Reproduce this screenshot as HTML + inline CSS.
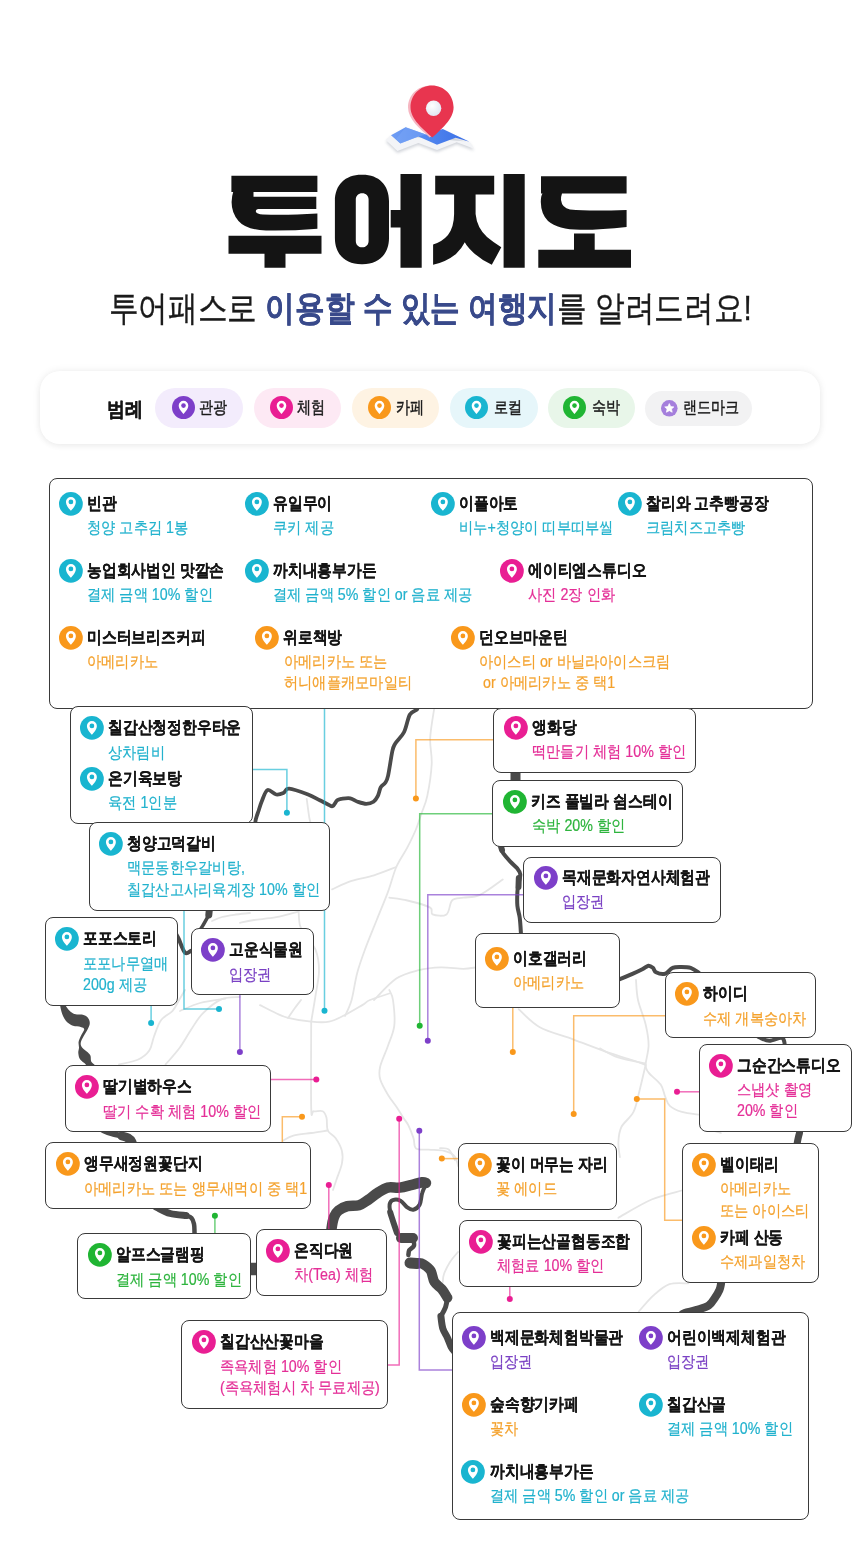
<!DOCTYPE html>
<html lang="ko"><head><meta charset="utf-8"><title>투어지도</title>
<style>
*{margin:0;padding:0;box-sizing:border-box}
html,body{width:860px;height:1542px;background:#fff;overflow:hidden}
body{position:relative;font-family:"Liberation Sans",sans-serif;color:#161616}
.abs{position:absolute}
.box{position:absolute;background:#fff;border:1px solid #3a3a3a;border-radius:8px}
.en{position:absolute;width:1px;height:1px}
.ic{position:absolute;left:0;top:0;width:23.8px;height:23.8px;display:block;overflow:visible}
.tt{position:absolute;left:28.2px;top:2.0px;font-size:17px;line-height:20px;font-weight:bold;white-space:nowrap;transform:scaleX(.87);transform-origin:0 0;color:#151515;-webkit-text-stroke:.2px #151515}
.sb{position:absolute;left:28.3px;top:25.4px;font-size:16px;line-height:21.3px;white-space:nowrap;transform:scaleX(.89);transform-origin:0 0;-webkit-text-stroke:.22px currentColor}
.sb div{white-space:pre}
.pill{height:40.5px;border-radius:21px}
.pic{position:absolute;top:8.2px;width:23px;height:23px}
.pt{position:absolute;top:10.4px;font-size:17px;line-height:20px;font-weight:normal;-webkit-text-stroke:.45px #1a1a1a;white-space:nowrap;transform:scaleX(.83);transform-origin:0 0;color:#1a1a1a}
</style></head><body>

<!-- top pin icon -->
<svg class="abs" style="left:375px;top:78px" width="110" height="85" viewBox="375 78 110 85">
 <defs>
  <linearGradient id="mg" x1="0" y1="0" x2="1" y2="0"><stop offset="0" stop-color="#6f9df4"/><stop offset=".5" stop-color="#4f84ee"/><stop offset="1" stop-color="#3b6fe6"/></linearGradient>
  <filter id="sh" x="-20%" y="-50%" width="140%" height="200%"><feGaussianBlur stdDeviation="1.6"/></filter>
  <radialGradient id="hg" cx=".4" cy=".35" r=".7"><stop offset="0" stop-color="#ffffff"/><stop offset="1" stop-color="#dfe5f2"/></radialGradient>
 </defs>
 <path d="M386 142 L391 137 L405.6 129 L426 136.5 L442.8 131 L469.5 143.7 L474.2 150.7 L456.7 144.3 L437 151.9 L418.4 144.9 L397.4 153 Z" fill="#9aa0ad" opacity=".45" filter="url(#sh)"/>
 <path d="M385.8 140 L391 135.3 L469.5 141.7 L474.2 148.7 L456.7 142.3 L437 149.9 L418.4 142.9 L397.4 151 Z" fill="#f3f4f7"/>
 <path d="M391 135.3 L405.6 127.2 L426 134.5 L442.8 129 L469.5 141.7 L455.6 137.7 L437 144.7 L418.4 136.5 L400.3 143.5 Z" fill="url(#mg)"/>
 <path d="M405.6 127.2 L426 134.5 L418.4 136.5 L400.3 143.5 L396 139 Z" fill="#7aa6f6" opacity=".55"/>
 <path d="M429.5 85.8 C417.5 85.8 408 95.3 408 107.6 C408 119.5 420.5 129.5 429.8 137.6 C438.5 129.5 451 119.5 451 107.6 C451 95.3 441.5 85.8 429.5 85.8 Z" fill="#f6b7c2"/>
 <path d="M432 85.5 C420 85.5 410.5 95 410.5 107.3 C410.5 119.3 423.5 129.5 432.4 137.6 C441 129.5 453.6 119.3 453.6 107.3 C453.6 95 444 85.5 432 85.5 Z" fill="#e8354f"/>
 <circle cx="433.6" cy="108.2" r="7.7" fill="url(#hg)"/>
</svg>
<!-- title -->
<svg class="abs" style="left:0;top:160px" width="860" height="120" viewBox="0 160 860 120" role="img" aria-label="투어지도">
<g fill="#141414">
 <path d="M231.4 175.8H317.4V192.1H253.5V196.7H316.3V209H258.5Q255.8 209 255.8 211.5Q256.5 214 263 214.5Q285 215.5 317.4 213.6V228.7Q290 231 266 230.5Q246 229.8 238.5 221Q231.5 213 231.6 202Q231.8 196 233.2 192.1H231.4Z"/>
 <path d="M228.5 235.7H321.5V253.7H285.5V267.7H264.5V253.7H228.5Z"/>
 <path d="M361.5 174.7C345 174.7 334.9 185 334.9 201V238C334.9 254 345 264.2 361.5 264.2H362.5C379 264.2 389 254 389 238V201C389 185 379 174.7 362.5 174.7ZM362.2 193.3C366 193.3 368.6 196 368.6 199.7V240.9C368.6 244.6 366 247.3 362.2 247.3C358.4 247.3 355.8 244.6 355.8 240.9V199.7C355.8 196 358.4 193.3 362.2 193.3Z" fill-rule="evenodd"/>
 <path d="M390.7 210.1H400.5V174.1H421.7V267.7H400.5V227.6H390.7Z"/>
 <path d="M435.2 175.8H494.2V194.4H475.6V214Q477 228 487 237Q493 242 501.3 247.3L491.8 264.8Q479 259 469.5 248.7Q466 245 464.8 242.2Q462 248 456 254Q446 262 433.1 264.8V244.4Q442 242 448 235Q454 227 454.1 214V194.4H435.2Z"/>
 <path d="M503.6 174.1H524.7V267.7H503.6Z"/>
 <path d="M541 176.2H626.6V193.6H562Q560.8 197 561 200Q562 208 570 209.5Q590 211.5 626.6 209.9V227Q600 230 580 229.8Q558 229.5 548 221Q541 214 540.8 202Q540.8 196 542.5 193.6H541Z"/>
 <path d="M574 233.5H594.7V249.8H631V267.7H538.3V249.8H574Z"/>
</g>
</svg>
<!-- subtitle -->
<div class="abs" style="left:0;top:288px;width:860px;text-align:center;font-size:35px;line-height:40px;white-space:nowrap;color:#1a1a1a">
 <span style="display:inline-block;transform:scaleX(.848);transform-origin:50% 0;-webkit-text-stroke:.35px currentColor">투어패스로 <b style="color:#394a8b;font-weight:bold">이용할 수 있는 여행지</b>를 알려드려요!</span>
</div>
<!-- legend -->
<div class="abs" style="left:40px;top:371px;width:780px;height:73px;border-radius:20px;background:#fff;box-shadow:0 0 8px rgba(0,0,0,.07),0 2px 6px rgba(0,0,0,.04)"></div>
<div class="abs" style="left:107px;top:398px;font-size:20px;line-height:22px;font-weight:bold;transform:scaleX(.9);transform-origin:0 0;color:#151515;-webkit-text-stroke:.25px #151515">범례</div>
<!-- legend pills -->
<div class="abs pill" style="left:155.1px;top:387.8px;width:88.4px;background:#f3ecfc"><svg class="pic" style="left:16.9px" viewBox="0 0 24 24"><circle cx="12" cy="12" r="12" fill="#7d3fc9"/><path d="M12 18.9C10.2 16.8 7 13.6 7 10A5 5 0 0 1 17 10C17 13.6 13.8 16.8 12 18.9Z" fill="#fff"/><circle cx="12" cy="10" r="2.4" fill="#7d3fc9"/></svg><span class="pt" style="left:44px">관광</span></div>
<div class="abs pill" style="left:253.5px;top:387.8px;width:87.2px;background:#fde9f4"><svg class="pic" style="left:16.3px" viewBox="0 0 24 24"><circle cx="12" cy="12" r="12" fill="#e91e93"/><path d="M12 18.9C10.2 16.8 7 13.6 7 10A5 5 0 0 1 17 10C17 13.6 13.8 16.8 12 18.9Z" fill="#fff"/><circle cx="12" cy="10" r="2.4" fill="#e91e93"/></svg><span class="pt" style="left:43px">체험</span></div>
<div class="abs pill" style="left:351.5px;top:387.8px;width:87.8px;background:#fef3e3"><svg class="pic" style="left:16.1px" viewBox="0 0 24 24"><circle cx="12" cy="12" r="12" fill="#f9981b"/><path d="M12 18.9C10.2 16.8 7 13.6 7 10A5 5 0 0 1 17 10C17 13.6 13.8 16.8 12 18.9Z" fill="#fff"/><circle cx="12" cy="10" r="2.4" fill="#f9981b"/></svg><span class="pt" style="left:44.3px">카페</span></div>
<div class="abs pill" style="left:450px;top:387.8px;width:87.5px;background:#e6f6fa"><svg class="pic" style="left:15.4px" viewBox="0 0 24 24"><circle cx="12" cy="12" r="12" fill="#19b5d0"/><path d="M12 18.9C10.2 16.8 7 13.6 7 10A5 5 0 0 1 17 10C17 13.6 13.8 16.8 12 18.9Z" fill="#fff"/><circle cx="12" cy="10" r="2.4" fill="#19b5d0"/></svg><span class="pt" style="left:43.5px">로컬</span></div>
<div class="abs pill" style="left:547.7px;top:387.8px;width:87.5px;background:#e8f6e9"><svg class="pic" style="left:15.8px" viewBox="0 0 24 24"><circle cx="12" cy="12" r="12" fill="#20b533"/><path d="M12 18.9C10.2 16.8 7 13.6 7 10A5 5 0 0 1 17 10C17 13.6 13.8 16.8 12 18.9Z" fill="#fff"/><circle cx="12" cy="10" r="2.4" fill="#20b533"/></svg><span class="pt" style="left:44.3px">숙박</span></div>
<div class="abs pill" style="left:645.4px;top:390.6px;width:106.9px;height:35px;background:#f2f2f3"><svg class="pic" style="left:16.1px;top:9.4px;width:16.6px;height:16.6px" viewBox="0 0 24 24"><circle cx="12" cy="12" r="12" fill="#a57fdc"/><path d="M12 5.2l2 4.3 4.6.5-3.4 3.1 1 4.6L12 15.4l-4.2 2.3 1-4.6L5.4 10l4.6-.5z" fill="#fff" stroke="#fff" stroke-width="1" stroke-linejoin="round"/></svg><span class="pt" style="left:37.3px;top:7.6px">랜드마크</span></div>

<svg class="abs" style="left:0;top:0" width="860" height="1542" viewBox="0 0 860 1542">
<g fill="none" stroke="#e5e5e5" stroke-width="1.8" stroke-linejoin="round" stroke-linecap="round">
<path d="M434.6,706.0 C433.9,711.3 430.7,728.1 430.2,737.8 C429.7,747.5 432.2,754.3 431.7,764.0 C431.2,773.7 429.0,787.7 427.3,795.9 C425.6,804.1 423.4,807.7 421.5,813.4 C419.6,819.1 418.1,824.3 415.7,830.0 C413.3,835.7 410.6,841.2 407.4,847.4 C404.2,853.6 399.6,859.5 396.3,867.0 C393.1,874.5 391.2,883.3 387.9,892.1 C384.6,900.9 380.4,910.7 376.7,920.0 C373.0,929.3 368.9,939.1 365.6,947.9 C362.4,956.7 359.5,964.3 357.2,973.0 C354.9,981.7 353.6,992.8 351.6,1000.0 C349.6,1007.2 346.1,1013.3 345.0,1016.0"/>
<path d="M396.3,867.0 C392.6,868.4 381.4,873.0 374.0,875.3 C366.6,877.6 358.6,878.6 351.6,880.9 C344.6,883.2 335.4,887.9 332.1,889.3"/>
<path d="M389.3,897.7 C392.3,898.2 400.6,898.9 407.4,900.5 C414.1,902.1 425.6,905.1 429.8,907.4 C434.0,909.7 429.8,913.2 432.6,914.4 C435.4,915.6 443.2,916.7 446.5,914.4 C449.8,912.1 449.3,903.3 452.1,900.5 C454.9,897.7 458.7,898.6 463.3,897.7 C467.9,896.8 473.4,897.9 480.0,894.9 C486.6,891.9 499.0,882.1 502.8,879.5"/>
<path d="M374.0,1000.0 C377.7,996.4 388.9,983.6 396.3,978.6 C403.7,973.6 411.2,972.1 418.6,970.2 C426.0,968.3 433.4,967.6 440.9,967.4 C448.3,967.2 457.4,968.8 463.3,968.8 C469.2,968.8 473.9,967.6 476.0,967.4"/>
<path d="M240.0,922.8 C242.3,922.3 247.9,920.9 254.0,920.0 C260.1,919.1 268.9,918.6 276.3,917.2 C283.7,915.8 294.9,912.5 298.6,911.6"/>
<path d="M298.6,911.6 C298.8,913.9 298.9,921.5 300.0,925.6 C301.1,929.7 302.4,932.0 305.0,936.0 C307.6,940.0 313.3,944.0 315.6,949.8 C317.9,955.6 319.0,963.2 319.0,970.7 C319.0,978.2 316.9,986.6 315.6,995.1 C314.3,1003.6 311.9,1017.3 311.2,1021.7"/>
<path d="M212.0,921.0 C213.7,920.3 218.0,918.1 222.0,917.0 C226.0,915.9 231.3,915.2 236.0,914.5 C240.7,913.8 247.7,913.2 250.0,913.0"/>
<path d="M180.0,1011.0 C183.3,1009.7 192.4,1005.0 200.0,1003.0 C207.6,1001.0 221.1,999.4 225.3,998.7"/>
<path d="M260.0,1005.1 C262.6,1006.4 270.6,1010.7 275.3,1012.8 C280.0,1014.9 282.1,1016.4 288.1,1017.9 C294.1,1019.4 304.4,1021.1 311.2,1021.7 C318.0,1022.3 323.5,1022.8 329.0,1021.7 C334.5,1020.6 338.8,1018.1 344.4,1015.3 C349.9,1012.5 358.0,1007.6 362.3,1005.1 C366.6,1002.6 365.5,1001.9 370.0,1000.0 C374.5,998.1 386.1,994.6 389.3,993.5"/>
<path d="M288.1,1017.9 C289.0,1016.6 291.2,1013.2 293.3,1010.2 C295.4,1007.2 299.7,1001.7 301.0,1000.0"/>
<path d="M311.2,1021.7 C311.2,1036.0 310.8,1092.5 311.2,1107.4 C311.6,1122.3 311.8,1110.7 313.7,1111.3 C315.6,1111.9 320.6,1110.2 322.7,1111.3 C324.8,1112.4 325.6,1114.5 326.5,1117.7 C327.4,1120.9 326.3,1127.1 327.8,1130.5 C329.3,1133.9 333.1,1134.7 335.5,1138.1 C337.9,1141.5 340.8,1146.6 341.9,1150.9 C343.0,1155.2 342.8,1159.0 341.9,1163.7 C341.0,1168.4 338.2,1174.6 336.7,1179.0 C335.2,1183.4 333.6,1188.2 333.0,1190.0"/>
<path d="M327.8,1130.5 C325.0,1130.9 316.9,1132.2 311.2,1133.0 C305.4,1133.8 298.0,1134.3 293.3,1135.6 C288.6,1136.9 284.7,1139.8 283.0,1140.7"/>
<path d="M389.3,990.0 C389.9,991.7 392.2,994.1 393.0,1000.0 C393.8,1005.9 395.2,1017.9 394.3,1025.6 C393.4,1033.3 390.2,1039.2 387.9,1046.0 C385.5,1052.8 381.5,1061.0 380.2,1066.5 C378.9,1072.0 378.9,1074.6 380.2,1079.3 C381.5,1084.0 385.1,1090.0 387.9,1094.7 C390.7,1099.4 394.3,1103.6 396.9,1107.4 C399.5,1111.2 401.4,1114.7 403.3,1117.7 C405.2,1120.7 406.7,1122.0 408.4,1125.4 C410.1,1128.8 412.2,1134.3 413.5,1138.1 C414.8,1141.9 413.4,1146.5 416.0,1148.4 C418.6,1150.3 424.1,1149.3 428.8,1149.7 C433.5,1150.1 439.9,1149.9 444.2,1150.9 C448.5,1152.0 452.0,1153.4 454.4,1156.0 C456.8,1158.6 457.6,1164.6 458.3,1166.3"/>
<path d="M119.0,1064.4 C122.1,1063.6 132.6,1062.1 137.7,1059.8 C142.8,1057.5 146.6,1054.4 149.3,1050.5 C152.0,1046.6 152.1,1041.5 154.0,1036.5 C155.9,1031.5 157.9,1024.5 161.0,1020.2 C164.1,1015.9 169.5,1014.4 172.6,1010.9 C175.7,1007.4 177.4,1002.8 179.5,999.3 C181.6,995.8 184.1,991.5 185.0,990.0"/>
<path d="M165.6,1064.4 C167.9,1061.7 175.2,1053.8 179.5,1048.0 C183.8,1042.2 187.3,1035.3 191.2,1029.5 C195.1,1023.7 197.8,1018.3 202.8,1013.3 C207.8,1008.3 215.2,1002.0 221.4,999.3 C227.6,996.6 236.9,997.4 240.0,997.0"/>
<path d="M518.6,1009.1 C522.1,1012.1 530.7,1022.2 539.8,1027.2 C548.9,1032.2 561.4,1035.0 573.0,1039.3 C584.6,1043.6 599.2,1049.4 609.3,1052.9 C619.4,1056.4 627.5,1058.5 633.5,1060.5 C639.5,1062.5 643.6,1064.2 645.6,1065.0"/>
<path d="M636.0,980.0 C636.3,983.3 636.4,992.6 638.0,1000.0 C639.6,1007.4 643.8,1016.7 645.6,1024.2 C647.4,1031.8 648.6,1038.5 648.6,1045.3 C648.6,1052.1 645.6,1060.5 645.6,1065.0 C645.6,1069.5 646.1,1069.3 648.6,1072.6 C651.1,1075.9 657.9,1080.6 660.7,1084.6 C663.5,1088.6 663.7,1093.2 665.2,1096.7 C666.7,1100.2 667.0,1103.3 669.8,1105.8 C672.6,1108.3 676.9,1110.4 681.9,1111.9 C686.9,1113.4 697.0,1114.4 700.0,1114.9"/>
<path d="M645.6,1065.0 C644.6,1069.3 641.5,1082.9 639.5,1090.7 C637.5,1098.5 636.5,1105.9 633.5,1111.9 C630.5,1118.0 623.9,1122.0 621.4,1127.0 C618.9,1132.0 618.6,1137.1 618.4,1142.1 C618.1,1147.1 619.6,1154.7 619.9,1157.2"/>
<path d="M600.0,1048.4 C603.0,1049.9 610.6,1054.9 618.1,1057.4 C625.6,1059.9 640.8,1062.5 645.3,1063.5"/>
<path d="M618.4,1217.7 C623.9,1214.7 641.0,1204.0 651.6,1199.5 C662.2,1195.0 676.9,1192.0 681.9,1190.5"/>
<path d="M638.8,1311.5 C641.2,1308.8 648.4,1300.0 653.5,1295.4 C658.6,1290.9 663.7,1286.2 669.5,1284.2 C675.3,1282.2 685.2,1283.5 688.3,1283.4"/>
<path d="M440.0,1148.1 C441.5,1148.4 446.5,1147.7 449.0,1149.7 C451.5,1151.7 454.0,1158.5 455.0,1160.2"/>
<path d="M458.0,1252.0 C456.7,1253.7 452.3,1258.3 450.0,1262.0 C447.7,1265.7 445.2,1270.7 444.0,1274.0 C442.8,1277.3 443.0,1280.7 442.8,1282.0"/>
<path d="M306.7,798.8 C307.2,802.2 308.7,814.7 309.6,819.2 C310.5,823.7 311.6,824.9 312.0,826.0"/>
<path d="M699.8,1127.0 L720.9,1133.0"/>
</g>
<g fill="none" stroke="#4a4a4a" stroke-linejoin="round" stroke-linecap="round">
<path stroke-width="10.5" d="M331.5,1236.0 C331.5,1234.8 331.1,1232.2 331.5,1229.0 C331.9,1225.8 332.8,1220.1 334.0,1217.0 C335.2,1213.9 336.3,1212.3 338.5,1210.5 C340.7,1208.7 344.0,1207.1 347.4,1206.2 C350.8,1205.3 355.6,1206.2 359.0,1205.2 C362.4,1204.2 364.9,1202.0 368.0,1200.0 C371.1,1198.0 374.2,1195.1 377.5,1193.0 C380.8,1190.9 384.0,1188.5 387.7,1187.6 C391.4,1186.7 395.8,1188.1 399.8,1187.6 C403.9,1187.1 408.3,1185.7 412.0,1184.8 C415.7,1183.9 419.9,1182.5 422.2,1182.2 C424.5,1181.9 425.4,1182.9 426.0,1183.0"/>
<path stroke-width="4" d="M426.0,1184.0 C425.4,1185.5 423.2,1189.6 422.2,1193.0 C421.1,1196.4 421.2,1201.7 419.7,1204.5 C418.2,1207.3 415.4,1209.3 413.3,1209.7 C411.2,1210.1 409.0,1208.6 406.9,1207.1 C404.8,1205.6 402.9,1201.9 400.5,1200.7 C398.1,1199.5 394.6,1199.5 392.8,1200.1 C391.0,1200.7 390.0,1202.5 389.6,1204.5 C389.2,1206.5 390.1,1210.9 390.2,1212.2"/>
<path stroke-width="6" d="M390.2,1212.2 C390.5,1213.3 391.4,1216.2 392.2,1218.6 C392.9,1220.9 393.9,1223.9 394.7,1226.3 C395.5,1228.7 396.6,1231.9 397.0,1233.0"/>
<path stroke-width="10" d="M401.0,1238.0 L413.0,1238.0"/>
<path stroke-width="4.5" d="M413.0,1238.0 C413.2,1239.3 414.6,1243.6 414.0,1245.6 C413.4,1247.6 410.2,1248.6 409.3,1250.2 C408.4,1251.8 408.5,1254.2 408.4,1255.0"/>
<path stroke-width="11" d="M410.0,1263.0 L417.0,1263.5"/>
<path stroke-width="10" d="M515.5,768.0 L515.5,784.0"/>
<path stroke-width="6" d="M500.0,843.0 L502.0,850.0"/>
<path stroke-width="4" d="M500.0,843.0 C500.2,844.0 500.9,847.3 501.5,849.0 C502.1,850.7 501.8,851.3 503.3,853.4 C504.8,855.5 508.0,859.1 510.3,861.6 C512.6,864.1 515.7,866.5 517.4,868.6 C519.1,870.7 520.1,871.9 520.3,874.4 C520.5,876.9 519.0,880.8 518.5,883.7 C518.0,886.6 517.6,888.2 517.4,891.9 C517.2,895.6 517.0,901.6 517.4,905.9 C517.8,910.2 519.1,913.1 519.7,917.6 C520.3,922.1 520.7,929.4 520.9,932.8 C521.1,936.2 521.0,937.1 521.0,938.0"/>
<path stroke-width="6" d="M518.8,878.0 L518.5,887.0"/>
<path stroke-width="3.8" d="M418.4,705.0 C418.2,705.7 418.6,707.7 417.2,709.3 C415.8,710.9 412.1,710.7 409.9,714.5 C407.7,718.3 406.5,727.1 404.1,732.0 C401.7,736.9 397.2,740.5 395.3,743.6 C393.4,746.8 393.6,745.6 392.4,750.9 C391.2,756.2 389.3,770.3 388.1,775.6 C386.9,780.9 386.4,780.9 385.2,782.8 C384.0,784.7 382.0,785.0 380.8,787.2 C379.6,789.4 379.1,793.5 377.9,795.9 C376.7,798.3 375.4,800.4 373.5,801.7 C371.6,803.0 368.9,803.8 366.3,803.8 C363.7,803.8 360.3,802.6 357.6,801.7 C354.9,800.8 353.0,798.8 350.3,798.3 C347.6,797.8 343.8,798.5 341.6,798.8 C339.4,799.1 338.7,799.1 337.2,800.3 C335.7,801.5 334.2,805.4 332.8,806.1 C331.4,806.8 330.7,805.7 328.5,804.7 C326.3,803.7 323.2,802.0 319.8,800.3 C316.4,798.6 313.2,796.4 308.1,794.5 C303.0,792.6 293.3,789.0 289.2,788.7 C285.1,788.5 285.6,792.0 283.4,793.0 C281.2,794.0 278.9,795.0 276.2,794.5 C273.5,794.0 269.8,788.9 267.4,790.1 C265.0,791.3 263.1,798.3 261.6,801.7 C260.2,805.1 259.7,807.6 258.7,810.5 C257.7,813.4 256.4,816.6 255.8,819.2 C255.2,821.8 255.1,824.9 255.0,826.0"/>
<path stroke-width="7" d="M209.5,908.0 L208.8,915.0"/>
<path stroke-width="3.5" d="M208.8,915.0 C207.8,916.8 204.6,922.7 202.8,925.7 C201.0,928.7 198.8,931.8 198.0,933.0"/>
<path stroke-width="4" d="M195.0,950.0 C194.4,950.1 192.8,950.3 191.2,950.8 C189.5,951.2 187.2,954.7 185.1,952.7 C183.0,950.7 180.3,942.2 178.6,938.7 C176.9,935.2 175.6,933.1 175.0,932.0"/>
<path stroke-width="6" d="M100.0,1128.0 C100.7,1128.4 102.0,1129.6 104.0,1130.5 C106.0,1131.4 109.0,1132.6 112.0,1133.5 C115.0,1134.4 120.3,1135.6 122.0,1136.0"/>
<path stroke-width="9" d="M122.0,1136.0 C123.0,1136.3 126.3,1137.0 128.0,1138.0 C129.7,1139.0 131.2,1140.5 132.0,1142.0 C132.8,1143.5 132.8,1146.2 133.0,1147.0"/>
<path stroke-width="7" d="M152.0,1204.0 C153.0,1204.7 155.0,1206.4 158.0,1208.0 C161.0,1209.6 165.5,1212.2 170.2,1213.5 C174.9,1214.8 183.4,1215.2 186.0,1215.5"/>
<path stroke-width="4.5" d="M186.0,1215.5 C186.9,1215.9 190.2,1216.6 191.5,1218.0 C192.8,1219.4 193.5,1221.7 194.0,1224.0 C194.5,1226.3 194.4,1229.7 194.5,1232.0 C194.6,1234.3 194.5,1237.0 194.5,1238.0"/>
<path stroke-width="12.5" d="M248.0,1269.0 L259.0,1269.0"/>
<path stroke-width="10" d="M418.0,1263.0 C418.9,1263.2 421.2,1262.9 423.3,1264.2 C425.4,1265.5 428.9,1267.8 430.7,1270.7 C432.5,1273.7 432.5,1278.8 434.4,1281.9 C436.3,1285.0 439.7,1286.7 441.9,1289.3 C444.1,1291.9 446.5,1296.3 447.4,1297.7"/>
<path stroke-width="5" d="M447.4,1297.7 C447.1,1299.2 446.7,1303.9 445.6,1307.0 C444.5,1310.1 441.7,1314.8 440.9,1316.3"/>
<path stroke-width="7" d="M440.9,1316.3 C441.2,1318.3 441.7,1324.8 442.8,1328.4 C443.9,1332.0 446.0,1334.6 447.4,1337.7 C448.8,1340.8 449.9,1344.6 451.2,1347.0 C452.5,1349.4 454.4,1351.2 455.0,1352.0"/>
<path stroke-width="4" d="M615.0,980.0 C615.7,979.9 616.3,980.3 619.3,979.3 C622.3,978.2 629.2,975.4 633.0,973.7 C636.8,972.0 639.7,970.6 642.3,969.3 C644.9,968.0 646.6,966.0 648.4,965.7 C650.2,965.5 651.6,966.7 652.9,967.8 C654.2,968.9 654.0,971.3 656.0,972.3 C658.0,973.3 662.2,974.5 665.0,973.8 C667.8,973.0 669.8,968.9 672.6,967.8 C675.4,966.6 678.6,966.9 681.6,966.9 C684.6,966.9 687.9,966.9 690.7,967.8 C693.5,968.7 696.4,970.9 698.3,972.3 C700.2,973.7 701.4,975.4 702.0,976.0"/>
<path stroke-width="4" d="M755.0,1034.0 C755.9,1034.6 757.8,1036.7 760.2,1037.8 C762.6,1038.9 765.8,1040.8 769.3,1040.8 C772.8,1040.8 778.9,1037.5 781.4,1037.8 C783.9,1038.0 783.9,1040.6 784.4,1042.3 C784.9,1044.0 784.4,1047.0 784.4,1048.0"/>
<path stroke-width="4" d="M799.5,1128.0 L799.5,1133.0"/>
<path stroke-width="7" d="M799.5,1133.0 C799.2,1134.0 798.5,1136.7 798.0,1139.0 C797.5,1141.3 796.8,1145.7 796.5,1147.0"/>
<path stroke-width="3.5" d="M721.0,1278.0 L721.0,1284.0"/>
<path stroke-width="8" d="M721.0,1284.0 C720.7,1285.0 720.4,1287.9 719.4,1290.2 C718.4,1292.5 716.7,1295.3 714.9,1297.8 C713.1,1300.3 711.8,1303.4 708.8,1305.4 C705.8,1307.4 700.7,1308.6 696.7,1309.9 C692.7,1311.2 687.5,1312.0 684.7,1313.0 C681.9,1314.0 680.8,1315.5 680.0,1316.0"/>
</g>
<path fill="#4a4a4a" d="M60.1,1003.0 C59.1,1003.4 59.8,1003.8 60.1,1005.6 C60.5,1007.4 61.2,1011.5 62.2,1014.0 C63.2,1016.5 64.2,1018.9 66.0,1020.9 C67.8,1022.9 70.5,1024.8 73.0,1025.8 C75.5,1026.8 78.8,1026.3 80.7,1026.9 C82.6,1027.5 84.2,1027.7 84.2,1029.3 C84.2,1030.9 81.6,1034.2 80.7,1036.3 C79.8,1038.4 78.9,1040.1 78.6,1041.9 C78.3,1043.8 79.0,1045.6 79.0,1047.4 C79.0,1049.2 78.1,1051.0 78.3,1053.0 C78.5,1055.0 78.8,1057.4 80.0,1059.3 C81.2,1061.2 84.4,1062.8 85.6,1064.2 C86.8,1065.7 85.4,1067.4 87.0,1068.0 C88.6,1068.6 93.7,1068.5 95.0,1068.0 C96.3,1067.5 95.3,1066.0 94.7,1064.9 C94.1,1063.8 91.9,1062.9 91.2,1061.4 C90.5,1059.9 91.1,1057.3 90.5,1055.8 C89.9,1054.3 89.1,1053.7 87.7,1052.3 C86.3,1050.9 83.3,1048.9 82.1,1047.4 C80.9,1045.9 80.6,1044.9 80.7,1043.3 C80.8,1041.7 81.6,1040.0 82.8,1037.7 C84.0,1035.4 86.5,1031.8 87.7,1029.3 C88.9,1026.8 89.8,1025.0 89.8,1023.0 C89.8,1021.0 88.9,1018.8 87.7,1017.4 C86.5,1016.0 84.8,1015.2 82.8,1014.7 C80.8,1014.2 77.8,1014.8 75.8,1014.3 C73.8,1013.8 72.5,1013.2 70.9,1011.9 C69.3,1010.6 66.8,1007.8 66.0,1006.3 C65.2,1004.8 67.0,1003.5 66.0,1003.0 C65.0,1002.5 61.1,1002.6 60.1,1003.0Z"/>
<polyline fill="none" stroke="#19b5d0" stroke-opacity=".65" stroke-width="1.5" points="252.8,769.5 286.9,769.5 286.9,812.8"/>
<circle cx="286.9" cy="812.8" r="3" fill="#19b5d0"/>
<polyline fill="none" stroke="#19b5d0" stroke-opacity=".65" stroke-width="1.5" points="324.5,707.0 324.5,1010.8"/>
<circle cx="324.5" cy="1010.8" r="3" fill="#19b5d0"/>
<polyline fill="none" stroke="#19b5d0" stroke-opacity=".65" stroke-width="1.5" points="184.0,910.0 184.0,1009.0 219.0,1009.0"/>
<circle cx="219.0" cy="1009.0" r="3" fill="#19b5d0"/>
<polyline fill="none" stroke="#19b5d0" stroke-opacity=".65" stroke-width="1.5" points="151.1,1005.0 151.1,1023.0"/>
<circle cx="151.1" cy="1023.0" r="3" fill="#19b5d0"/>
<polyline fill="none" stroke="#7d3fc9" stroke-opacity=".65" stroke-width="1.5" points="239.9,994.5 239.9,1052.0"/>
<circle cx="239.9" cy="1052.0" r="3" fill="#7d3fc9"/>
<polyline fill="none" stroke="#7d3fc9" stroke-opacity=".65" stroke-width="1.5" points="523.5,894.8 427.8,894.8 427.8,1040.7"/>
<circle cx="427.8" cy="1040.7" r="3" fill="#7d3fc9"/>
<polyline fill="none" stroke="#7d3fc9" stroke-opacity=".65" stroke-width="1.5" points="452.5,1370.0 419.3,1370.0 419.3,1130.8"/>
<circle cx="419.3" cy="1130.8" r="3" fill="#7d3fc9"/>
<polyline fill="none" stroke="#f9981b" stroke-opacity=".65" stroke-width="1.5" points="493.6,739.8 415.9,739.8 415.9,798.6"/>
<circle cx="415.9" cy="798.6" r="3" fill="#f9981b"/>
<polyline fill="none" stroke="#f9981b" stroke-opacity=".65" stroke-width="1.5" points="512.8,1006.5 512.8,1052.0"/>
<circle cx="512.8" cy="1052.0" r="3" fill="#f9981b"/>
<polyline fill="none" stroke="#f9981b" stroke-opacity=".65" stroke-width="1.5" points="665.7,1015.7 573.7,1015.7 573.7,1114.0"/>
<circle cx="573.7" cy="1114.0" r="3" fill="#f9981b"/>
<polyline fill="none" stroke="#f9981b" stroke-opacity=".65" stroke-width="1.5" points="682.7,1220.3 664.7,1220.3 664.7,1099.0 636.8,1099.0"/>
<circle cx="636.8" cy="1099.0" r="3" fill="#f9981b"/>
<polyline fill="none" stroke="#f9981b" stroke-opacity=".65" stroke-width="1.5" points="282.3,1142.4 282.3,1116.7 302.0,1116.7"/>
<circle cx="302.0" cy="1116.7" r="3" fill="#f9981b"/>
<polyline fill="none" stroke="#f9981b" stroke-opacity=".65" stroke-width="1.5" points="458.6,1158.6 441.8,1158.6"/>
<circle cx="441.8" cy="1158.6" r="3" fill="#f9981b"/>
<polyline fill="none" stroke="#20b533" stroke-opacity=".65" stroke-width="1.5" points="492.7,813.8 419.7,813.8 419.7,1025.8"/>
<circle cx="419.7" cy="1025.8" r="3" fill="#20b533"/>
<polyline fill="none" stroke="#20b533" stroke-opacity=".65" stroke-width="1.5" points="214.9,1233.3 214.9,1215.8"/>
<circle cx="214.9" cy="1215.8" r="3" fill="#20b533"/>
<polyline fill="none" stroke="#e91e93" stroke-opacity=".65" stroke-width="1.5" points="699.8,1091.8 677.0,1091.8"/>
<circle cx="677.0" cy="1091.8" r="3" fill="#e91e93"/>
<polyline fill="none" stroke="#e91e93" stroke-opacity=".65" stroke-width="1.5" points="270.9,1079.4 316.3,1079.4"/>
<circle cx="316.3" cy="1079.4" r="3" fill="#e91e93"/>
<polyline fill="none" stroke="#e91e93" stroke-opacity=".65" stroke-width="1.5" points="328.8,1229.2 328.8,1184.9"/>
<circle cx="328.8" cy="1184.9" r="3" fill="#e91e93"/>
<polyline fill="none" stroke="#e91e93" stroke-opacity=".65" stroke-width="1.5" points="387.9,1365.0 399.2,1365.0 399.2,1118.7"/>
<circle cx="399.2" cy="1118.7" r="3" fill="#e91e93"/>
<polyline fill="none" stroke="#e91e93" stroke-opacity=".65" stroke-width="1.5" points="509.8,1286.3 509.8,1299.0"/>
<circle cx="509.8" cy="1299.0" r="3" fill="#e91e93"/>
</svg>
<div class="box" style="left:48.9px;top:478.0px;width:764.0px;height:230.8px"></div>
<div class="box" style="left:70.0px;top:705.9px;width:183.3px;height:117.7px"></div>
<div class="box" style="left:89.0px;top:822.1px;width:241.0px;height:88.6px"></div>
<div class="box" style="left:44.7px;top:916.9px;width:133.0px;height:88.9px"></div>
<div class="box" style="left:190.6px;top:927.9px;width:123.7px;height:67.1px"></div>
<div class="box" style="left:493.1px;top:707.7px;width:202.8px;height:65.3px"></div>
<div class="box" style="left:492.2px;top:780.2px;width:190.5px;height:67.0px"></div>
<div class="box" style="left:522.9px;top:857.3px;width:197.9px;height:66.2px"></div>
<div class="box" style="left:475.0px;top:933.0px;width:144.7px;height:75.0px"></div>
<div class="box" style="left:665.2px;top:972.3px;width:150.9px;height:66.2px"></div>
<div class="box" style="left:699.3px;top:1044.4px;width:152.7px;height:88.1px"></div>
<div class="box" style="left:64.8px;top:1064.9px;width:206.6px;height:67.0px"></div>
<div class="box" style="left:44.7px;top:1141.9px;width:266.0px;height:66.8px"></div>
<div class="box" style="left:458.1px;top:1143.2px;width:159.2px;height:66.4px"></div>
<div class="box" style="left:682.2px;top:1143.2px;width:136.8px;height:139.7px"></div>
<div class="box" style="left:77.4px;top:1232.7px;width:173.7px;height:66.8px"></div>
<div class="box" style="left:256.1px;top:1228.7px;width:130.9px;height:67.0px"></div>
<div class="box" style="left:459.0px;top:1219.9px;width:182.7px;height:66.9px"></div>
<div class="box" style="left:181.4px;top:1319.9px;width:207.0px;height:89.0px"></div>
<div class="box" style="left:452.1px;top:1311.9px;width:357.4px;height:208.4px"></div>
<div class="en" style="left:58.9px;top:492.1px"><svg class="ic" viewBox="0 0 24 24"><circle cx="12" cy="12" r="12" fill="#19b5d0"/><path d="M12 18.9C10.2 16.8 7 13.6 7 10A5 5 0 0 1 17 10C17 13.6 13.8 16.8 12 18.9Z" fill="#fff"/><circle cx="12" cy="10" r="2.4" fill="#19b5d0"/></svg><div class="tt">빈관</div><div class="sb" style="color:#22b2cd"><div>청양 고추김 1봉</div></div></div>
<div class="en" style="left:245.0px;top:492.1px"><svg class="ic" viewBox="0 0 24 24"><circle cx="12" cy="12" r="12" fill="#19b5d0"/><path d="M12 18.9C10.2 16.8 7 13.6 7 10A5 5 0 0 1 17 10C17 13.6 13.8 16.8 12 18.9Z" fill="#fff"/><circle cx="12" cy="10" r="2.4" fill="#19b5d0"/></svg><div class="tt">유일무이</div><div class="sb" style="color:#22b2cd"><div>쿠키 제공</div></div></div>
<div class="en" style="left:431.0px;top:491.8px"><svg class="ic" viewBox="0 0 24 24"><circle cx="12" cy="12" r="12" fill="#19b5d0"/><path d="M12 18.9C10.2 16.8 7 13.6 7 10A5 5 0 0 1 17 10C17 13.6 13.8 16.8 12 18.9Z" fill="#fff"/><circle cx="12" cy="10" r="2.4" fill="#19b5d0"/></svg><div class="tt">이플아토</div><div class="sb" style="color:#22b2cd"><div>비누+청양이 띠부띠부씰</div></div></div>
<div class="en" style="left:617.8px;top:491.8px"><svg class="ic" viewBox="0 0 24 24"><circle cx="12" cy="12" r="12" fill="#19b5d0"/><path d="M12 18.9C10.2 16.8 7 13.6 7 10A5 5 0 0 1 17 10C17 13.6 13.8 16.8 12 18.9Z" fill="#fff"/><circle cx="12" cy="10" r="2.4" fill="#19b5d0"/></svg><div class="tt">찰리와 고추빵공장</div><div class="sb" style="color:#22b2cd"><div>크림치즈고추빵</div></div></div>
<div class="en" style="left:59.1px;top:558.9px"><svg class="ic" viewBox="0 0 24 24"><circle cx="12" cy="12" r="12" fill="#19b5d0"/><path d="M12 18.9C10.2 16.8 7 13.6 7 10A5 5 0 0 1 17 10C17 13.6 13.8 16.8 12 18.9Z" fill="#fff"/><circle cx="12" cy="10" r="2.4" fill="#19b5d0"/></svg><div class="tt">농업회사법인 맛깔손</div><div class="sb" style="color:#22b2cd"><div>결제 금액 10% 할인</div></div></div>
<div class="en" style="left:245.0px;top:558.8px"><svg class="ic" viewBox="0 0 24 24"><circle cx="12" cy="12" r="12" fill="#19b5d0"/><path d="M12 18.9C10.2 16.8 7 13.6 7 10A5 5 0 0 1 17 10C17 13.6 13.8 16.8 12 18.9Z" fill="#fff"/><circle cx="12" cy="10" r="2.4" fill="#19b5d0"/></svg><div class="tt">까치내흥부가든</div><div class="sb" style="color:#22b2cd"><div>결제 금액 5% 할인 or 음료 제공</div></div></div>
<div class="en" style="left:499.8px;top:558.9px"><svg class="ic" viewBox="0 0 24 24"><circle cx="12" cy="12" r="12" fill="#e91e93"/><path d="M12 18.9C10.2 16.8 7 13.6 7 10A5 5 0 0 1 17 10C17 13.6 13.8 16.8 12 18.9Z" fill="#fff"/><circle cx="12" cy="10" r="2.4" fill="#e91e93"/></svg><div class="tt">에이티엠스튜디오</div><div class="sb" style="color:#e42f97"><div>사진 2장 인화</div></div></div>
<div class="en" style="left:59.1px;top:625.6px"><svg class="ic" viewBox="0 0 24 24"><circle cx="12" cy="12" r="12" fill="#f9981b"/><path d="M12 18.9C10.2 16.8 7 13.6 7 10A5 5 0 0 1 17 10C17 13.6 13.8 16.8 12 18.9Z" fill="#fff"/><circle cx="12" cy="10" r="2.4" fill="#f9981b"/></svg><div class="tt">미스터브리즈커피</div><div class="sb" style="color:#f4a12c"><div>아메리카노</div></div></div>
<div class="en" style="left:255.3px;top:625.6px"><svg class="ic" viewBox="0 0 24 24"><circle cx="12" cy="12" r="12" fill="#f9981b"/><path d="M12 18.9C10.2 16.8 7 13.6 7 10A5 5 0 0 1 17 10C17 13.6 13.8 16.8 12 18.9Z" fill="#fff"/><circle cx="12" cy="10" r="2.4" fill="#f9981b"/></svg><div class="tt">위로책방</div><div class="sb" style="color:#f4a12c"><div>아메리카노 또는</div><div>허니애플캐모마일티</div></div></div>
<div class="en" style="left:451.0px;top:625.6px"><svg class="ic" viewBox="0 0 24 24"><circle cx="12" cy="12" r="12" fill="#f9981b"/><path d="M12 18.9C10.2 16.8 7 13.6 7 10A5 5 0 0 1 17 10C17 13.6 13.8 16.8 12 18.9Z" fill="#fff"/><circle cx="12" cy="10" r="2.4" fill="#f9981b"/></svg><div class="tt">던오브마운틴</div><div class="sb" style="color:#f4a12c"><div>아이스티 or 바닐라아이스크림</div><div> or 아메리카노 중 택1</div></div></div>
<div class="en" style="left:80.2px;top:716.2px"><svg class="ic" viewBox="0 0 24 24"><circle cx="12" cy="12" r="12" fill="#19b5d0"/><path d="M12 18.9C10.2 16.8 7 13.6 7 10A5 5 0 0 1 17 10C17 13.6 13.8 16.8 12 18.9Z" fill="#fff"/><circle cx="12" cy="10" r="2.4" fill="#19b5d0"/></svg><div class="tt">칠갑산청정한우타운</div><div class="sb" style="color:#22b2cd"><div>상차림비</div></div></div>
<div class="en" style="left:80.2px;top:767.1px"><svg class="ic" viewBox="0 0 24 24"><circle cx="12" cy="12" r="12" fill="#19b5d0"/><path d="M12 18.9C10.2 16.8 7 13.6 7 10A5 5 0 0 1 17 10C17 13.6 13.8 16.8 12 18.9Z" fill="#fff"/><circle cx="12" cy="10" r="2.4" fill="#19b5d0"/></svg><div class="tt">온기육보탕</div><div class="sb" style="color:#22b2cd"><div>육전 1인분</div></div></div>
<div class="en" style="left:99.1px;top:832.0px"><svg class="ic" viewBox="0 0 24 24"><circle cx="12" cy="12" r="12" fill="#19b5d0"/><path d="M12 18.9C10.2 16.8 7 13.6 7 10A5 5 0 0 1 17 10C17 13.6 13.8 16.8 12 18.9Z" fill="#fff"/><circle cx="12" cy="10" r="2.4" fill="#19b5d0"/></svg><div class="tt">청양고덕갈비</div><div class="sb" style="color:#22b2cd"><div>맥문동한우갈비탕,</div><div>칠갑산고사리육계장 10% 할인</div></div></div>
<div class="en" style="left:54.7px;top:927.2px"><svg class="ic" viewBox="0 0 24 24"><circle cx="12" cy="12" r="12" fill="#19b5d0"/><path d="M12 18.9C10.2 16.8 7 13.6 7 10A5 5 0 0 1 17 10C17 13.6 13.8 16.8 12 18.9Z" fill="#fff"/><circle cx="12" cy="10" r="2.4" fill="#19b5d0"/></svg><div class="tt">포포스토리</div><div class="sb" style="color:#22b2cd"><div>포포나무열매</div><div>200g 제공</div></div></div>
<div class="en" style="left:200.5px;top:938.2px"><svg class="ic" viewBox="0 0 24 24"><circle cx="12" cy="12" r="12" fill="#7d3fc9"/><path d="M12 18.9C10.2 16.8 7 13.6 7 10A5 5 0 0 1 17 10C17 13.6 13.8 16.8 12 18.9Z" fill="#fff"/><circle cx="12" cy="10" r="2.4" fill="#7d3fc9"/></svg><div class="tt">고운식물원</div><div class="sb" style="color:#7b42c4"><div>입장권</div></div></div>
<div class="en" style="left:504.0px;top:716.0px"><svg class="ic" viewBox="0 0 24 24"><circle cx="12" cy="12" r="12" fill="#e91e93"/><path d="M12 18.9C10.2 16.8 7 13.6 7 10A5 5 0 0 1 17 10C17 13.6 13.8 16.8 12 18.9Z" fill="#fff"/><circle cx="12" cy="10" r="2.4" fill="#e91e93"/></svg><div class="tt">앵화당</div><div class="sb" style="color:#e42f97"><div>떡만들기 체험 10% 할인</div></div></div>
<div class="en" style="left:503.3px;top:789.7px"><svg class="ic" viewBox="0 0 24 24"><circle cx="12" cy="12" r="12" fill="#20b533"/><path d="M12 18.9C10.2 16.8 7 13.6 7 10A5 5 0 0 1 17 10C17 13.6 13.8 16.8 12 18.9Z" fill="#fff"/><circle cx="12" cy="10" r="2.4" fill="#20b533"/></svg><div class="tt">키즈 풀빌라 쉼스테이</div><div class="sb" style="color:#2eb43e"><div>숙박 20% 할인</div></div></div>
<div class="en" style="left:533.5px;top:866.0px"><svg class="ic" viewBox="0 0 24 24"><circle cx="12" cy="12" r="12" fill="#7d3fc9"/><path d="M12 18.9C10.2 16.8 7 13.6 7 10A5 5 0 0 1 17 10C17 13.6 13.8 16.8 12 18.9Z" fill="#fff"/><circle cx="12" cy="10" r="2.4" fill="#7d3fc9"/></svg><div class="tt">목재문화자연사체험관</div><div class="sb" style="color:#7b42c4"><div>입장권</div></div></div>
<div class="en" style="left:484.9px;top:947.0px"><svg class="ic" viewBox="0 0 24 24"><circle cx="12" cy="12" r="12" fill="#f9981b"/><path d="M12 18.9C10.2 16.8 7 13.6 7 10A5 5 0 0 1 17 10C17 13.6 13.8 16.8 12 18.9Z" fill="#fff"/><circle cx="12" cy="10" r="2.4" fill="#f9981b"/></svg><div class="tt">이호갤러리</div><div class="sb" style="color:#f4a12c"><div>아메리카노</div></div></div>
<div class="en" style="left:675.0px;top:982.2px"><svg class="ic" viewBox="0 0 24 24"><circle cx="12" cy="12" r="12" fill="#f9981b"/><path d="M12 18.9C10.2 16.8 7 13.6 7 10A5 5 0 0 1 17 10C17 13.6 13.8 16.8 12 18.9Z" fill="#fff"/><circle cx="12" cy="10" r="2.4" fill="#f9981b"/></svg><div class="tt">하이디</div><div class="sb" style="color:#f4a12c"><div>수제 개복숭아차</div></div></div>
<div class="en" style="left:708.8px;top:1053.8px"><svg class="ic" viewBox="0 0 24 24"><circle cx="12" cy="12" r="12" fill="#e91e93"/><path d="M12 18.9C10.2 16.8 7 13.6 7 10A5 5 0 0 1 17 10C17 13.6 13.8 16.8 12 18.9Z" fill="#fff"/><circle cx="12" cy="10" r="2.4" fill="#e91e93"/></svg><div class="tt">그순간스튜디오</div><div class="sb" style="color:#e42f97"><div>스냅샷 촬영</div><div>20% 할인</div></div></div>
<div class="en" style="left:74.9px;top:1075.3px"><svg class="ic" viewBox="0 0 24 24"><circle cx="12" cy="12" r="12" fill="#e91e93"/><path d="M12 18.9C10.2 16.8 7 13.6 7 10A5 5 0 0 1 17 10C17 13.6 13.8 16.8 12 18.9Z" fill="#fff"/><circle cx="12" cy="10" r="2.4" fill="#e91e93"/></svg><div class="tt">딸기별하우스</div><div class="sb" style="color:#e42f97"><div>딸기 수확 체험 10% 할인</div></div></div>
<div class="en" style="left:55.7px;top:1152.4px"><svg class="ic" viewBox="0 0 24 24"><circle cx="12" cy="12" r="12" fill="#f9981b"/><path d="M12 18.9C10.2 16.8 7 13.6 7 10A5 5 0 0 1 17 10C17 13.6 13.8 16.8 12 18.9Z" fill="#fff"/><circle cx="12" cy="10" r="2.4" fill="#f9981b"/></svg><div class="tt">앵무새정원꽃단지</div><div class="sb" style="color:#f4a12c"><div>아메리카노 또는 앵무새먹이 중 택1</div></div></div>
<div class="en" style="left:468.2px;top:1152.7px"><svg class="ic" viewBox="0 0 24 24"><circle cx="12" cy="12" r="12" fill="#f9981b"/><path d="M12 18.9C10.2 16.8 7 13.6 7 10A5 5 0 0 1 17 10C17 13.6 13.8 16.8 12 18.9Z" fill="#fff"/><circle cx="12" cy="10" r="2.4" fill="#f9981b"/></svg><div class="tt">꽃이 머무는 자리</div><div class="sb" style="color:#f4a12c"><div>꽃 에이드</div></div></div>
<div class="en" style="left:692.0px;top:1153.0px"><svg class="ic" viewBox="0 0 24 24"><circle cx="12" cy="12" r="12" fill="#f9981b"/><path d="M12 18.9C10.2 16.8 7 13.6 7 10A5 5 0 0 1 17 10C17 13.6 13.8 16.8 12 18.9Z" fill="#fff"/><circle cx="12" cy="10" r="2.4" fill="#f9981b"/></svg><div class="tt">벨이태리</div><div class="sb" style="color:#f4a12c"><div>아메리카노</div><div>또는 아이스티</div></div></div>
<div class="en" style="left:692.0px;top:1225.5px"><svg class="ic" viewBox="0 0 24 24"><circle cx="12" cy="12" r="12" fill="#f9981b"/><path d="M12 18.9C10.2 16.8 7 13.6 7 10A5 5 0 0 1 17 10C17 13.6 13.8 16.8 12 18.9Z" fill="#fff"/><circle cx="12" cy="10" r="2.4" fill="#f9981b"/></svg><div class="tt">카페 산동</div><div class="sb" style="color:#f4a12c"><div>수제과일청차</div></div></div>
<div class="en" style="left:87.9px;top:1243.3px"><svg class="ic" viewBox="0 0 24 24"><circle cx="12" cy="12" r="12" fill="#20b533"/><path d="M12 18.9C10.2 16.8 7 13.6 7 10A5 5 0 0 1 17 10C17 13.6 13.8 16.8 12 18.9Z" fill="#fff"/><circle cx="12" cy="10" r="2.4" fill="#20b533"/></svg><div class="tt">알프스글램핑</div><div class="sb" style="color:#2eb43e"><div>결제 금액 10% 할인</div></div></div>
<div class="en" style="left:266.0px;top:1238.5px"><svg class="ic" viewBox="0 0 24 24"><circle cx="12" cy="12" r="12" fill="#e91e93"/><path d="M12 18.9C10.2 16.8 7 13.6 7 10A5 5 0 0 1 17 10C17 13.6 13.8 16.8 12 18.9Z" fill="#fff"/><circle cx="12" cy="10" r="2.4" fill="#e91e93"/></svg><div class="tt">온직다원</div><div class="sb" style="color:#e42f97"><div>차(Tea) 체험</div></div></div>
<div class="en" style="left:468.5px;top:1230.0px"><svg class="ic" viewBox="0 0 24 24"><circle cx="12" cy="12" r="12" fill="#e91e93"/><path d="M12 18.9C10.2 16.8 7 13.6 7 10A5 5 0 0 1 17 10C17 13.6 13.8 16.8 12 18.9Z" fill="#fff"/><circle cx="12" cy="10" r="2.4" fill="#e91e93"/></svg><div class="tt">꽃피는산골협동조합</div><div class="sb" style="color:#e42f97"><div>체험료 10% 할인</div></div></div>
<div class="en" style="left:191.6px;top:1330.3px"><svg class="ic" viewBox="0 0 24 24"><circle cx="12" cy="12" r="12" fill="#e91e93"/><path d="M12 18.9C10.2 16.8 7 13.6 7 10A5 5 0 0 1 17 10C17 13.6 13.8 16.8 12 18.9Z" fill="#fff"/><circle cx="12" cy="10" r="2.4" fill="#e91e93"/></svg><div class="tt">칠갑산산꽃마을</div><div class="sb" style="color:#e42f97"><div>족욕체험 10% 할인</div><div>(족욕체험시 차 무료제공)</div></div></div>
<div class="en" style="left:462.0px;top:1326.0px"><svg class="ic" viewBox="0 0 24 24"><circle cx="12" cy="12" r="12" fill="#7d3fc9"/><path d="M12 18.9C10.2 16.8 7 13.6 7 10A5 5 0 0 1 17 10C17 13.6 13.8 16.8 12 18.9Z" fill="#fff"/><circle cx="12" cy="10" r="2.4" fill="#7d3fc9"/></svg><div class="tt">백제문화체험박물관</div><div class="sb" style="color:#7b42c4"><div>입장권</div></div></div>
<div class="en" style="left:638.6px;top:1326.0px"><svg class="ic" viewBox="0 0 24 24"><circle cx="12" cy="12" r="12" fill="#7d3fc9"/><path d="M12 18.9C10.2 16.8 7 13.6 7 10A5 5 0 0 1 17 10C17 13.6 13.8 16.8 12 18.9Z" fill="#fff"/><circle cx="12" cy="10" r="2.4" fill="#7d3fc9"/></svg><div class="tt">어린이백제체험관</div><div class="sb" style="color:#7b42c4"><div>입장권</div></div></div>
<div class="en" style="left:462.0px;top:1392.6px"><svg class="ic" viewBox="0 0 24 24"><circle cx="12" cy="12" r="12" fill="#f9981b"/><path d="M12 18.9C10.2 16.8 7 13.6 7 10A5 5 0 0 1 17 10C17 13.6 13.8 16.8 12 18.9Z" fill="#fff"/><circle cx="12" cy="10" r="2.4" fill="#f9981b"/></svg><div class="tt">숲속향기카페</div><div class="sb" style="color:#f4a12c"><div>꽃차</div></div></div>
<div class="en" style="left:638.6px;top:1392.6px"><svg class="ic" viewBox="0 0 24 24"><circle cx="12" cy="12" r="12" fill="#19b5d0"/><path d="M12 18.9C10.2 16.8 7 13.6 7 10A5 5 0 0 1 17 10C17 13.6 13.8 16.8 12 18.9Z" fill="#fff"/><circle cx="12" cy="10" r="2.4" fill="#19b5d0"/></svg><div class="tt">칠갑산골</div><div class="sb" style="color:#22b2cd"><div>결제 금액 10% 할인</div></div></div>
<div class="en" style="left:461.4px;top:1459.6px"><svg class="ic" viewBox="0 0 24 24"><circle cx="12" cy="12" r="12" fill="#19b5d0"/><path d="M12 18.9C10.2 16.8 7 13.6 7 10A5 5 0 0 1 17 10C17 13.6 13.8 16.8 12 18.9Z" fill="#fff"/><circle cx="12" cy="10" r="2.4" fill="#19b5d0"/></svg><div class="tt">까치내흥부가든</div><div class="sb" style="color:#22b2cd"><div>결제 금액 5% 할인 or 음료 제공</div></div></div>
</body></html>
